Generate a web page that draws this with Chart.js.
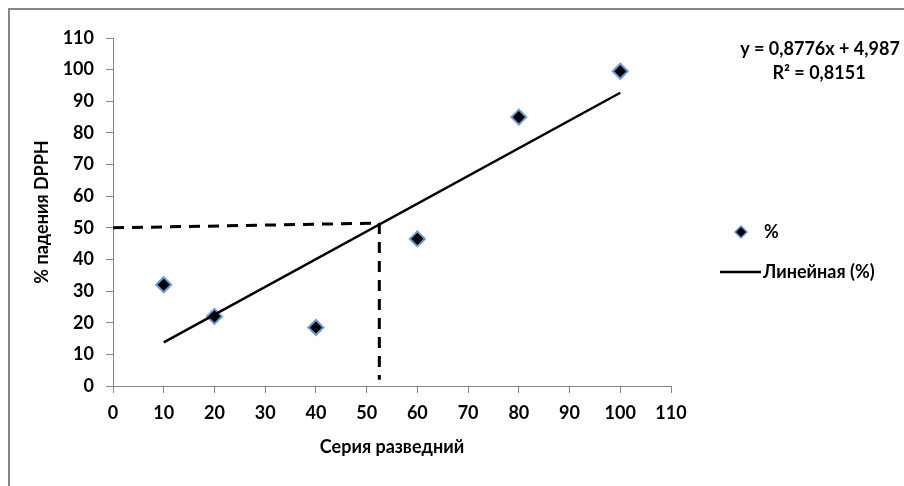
<!DOCTYPE html>
<html>
<head>
    <title>% падения DPPH</title>
    <script src="https://cdn.jsdelivr.net/npm/chart.js"></script>
    <style>
        body { margin: 0; background: #fff; }
        .wrap { position: relative; width: 904px; height: 486px; overflow: hidden; }
        .frame { position: absolute; left: 8px; top: 8px; width: 1000px; height: 1000px; border: 2px solid #878787; pointer-events: none; }
        canvas { position: absolute; left: 0; top: 0; }
    </style>
</head>
<body>
    <div class="wrap">
        <canvas id="chart" width="904" height="486"></canvas>
        <div class="frame"></div>
    </div>

    <script>
        // Серия разведний / % падения DPPH
        const seriesX = [10, 20, 40, 60, 80, 100];
        const seriesY = [32, 22, 18.5, 46.5, 85, 99.5];

        // линия тренда (концы)
        const trendX = [10, 100];
        const trendY = [13.8, 92.7];

        // пунктир: 50% по оси Y
        const guideHX = [0, 52.5];
        const guideHY = [50, 51.5];
        const guideVX = [52.5, 52.5];
        const guideVY = [51.5, 2];

        const xTicks = [0, 10, 20, 30, 40, 50, 60, 70, 80, 90, 100, 110];
        const yTicks = [0, 10, 20, 30, 40, 50, 60, 70, 80, 90, 100, 110];

        const legendLabels = ["%", "Линейная (%)"];
        const equationLines = ["y = 0,8776x + 4,987", "R² = 0,8151"];

        const pts = (xs, ys) => xs.map((x, i) => ({ x: x, y: ys[i] }));

        const FONT = "Lato, 'Open Sans', sans-serif";
        const FS = 18;
        Chart.defaults.color = "#000";
        Chart.defaults.font.family = FONT;

        // легенда и уравнение справа
        const sidePlugin = {
            id: "side",
            afterDraw(chart) {
                const ctx = chart.ctx;
                ctx.save();
                ctx.fillStyle = "#000";
                ctx.font = "bold " + FS + "px " + FONT;
                ctx.textBaseline = "middle";
                ctx.textAlign = "center";
                ctx.fillText(equationLines[0], 820, 49);
                ctx.fillText(equationLines[1], 819, 73);

                // маркер
                ctx.beginPath();
                ctx.moveTo(741, 226);
                ctx.lineTo(747, 232);
                ctx.lineTo(741, 238);
                ctx.lineTo(735, 232);
                ctx.closePath();
                ctx.fillStyle = "#000";
                ctx.fill();
                ctx.strokeStyle = "#6a9bd8";
                ctx.lineWidth = 1.5;
                ctx.stroke();

                // линия
                ctx.beginPath();
                ctx.moveTo(720, 272);
                ctx.lineTo(761, 272);
                ctx.strokeStyle = "#000";
                ctx.lineWidth = 2.5;
                ctx.stroke();

                ctx.textAlign = "left";
                ctx.fillStyle = "#000";
                ctx.fillText(legendLabels[0], 764, 232);
                ctx.fillText(legendLabels[1], 763, 272);
                ctx.restore();
            }
        };

        new Chart(document.getElementById("chart"), {
            type: "scatter",
            data: {
                datasets: [
                    {
                        label: legendLabels[0],
                        data: pts(seriesX, seriesY),
                        pointStyle: "rectRot",
                        pointRadius: 7.5,
                        pointBackgroundColor: "#000",
                        pointBorderColor: "#6a9bd8",
                        pointBorderWidth: 2,
                        order: 1
                    },
                    {
                        label: legendLabels[1],
                        data: pts(trendX, trendY),
                        showLine: true,
                        pointRadius: 0,
                        borderColor: "#000",
                        borderWidth: 2.5,
                        order: 0
                    },
                    {
                        label: "guideH",
                        data: pts(guideHX, guideHY),
                        showLine: true,
                        pointRadius: 0,
                        borderColor: "#000",
                        borderWidth: 3,
                        borderDash: [11, 8],
                        order: 2
                    },
                    {
                        label: "guideV",
                        data: pts(guideVX, guideVY),
                        showLine: true,
                        pointRadius: 0,
                        borderColor: "#000",
                        borderWidth: 3,
                        borderDash: [11, 8],
                        order: 2
                    }
                ]
            },
            options: {
                responsive: false,
                animation: false,
                layout: { padding: { left: 0, top: 38, right: 233, bottom: 0 } },
                plugins: {
                    legend: { display: false },
                    tooltip: { enabled: false }
                },
                scales: {
                    x: {
                        type: "linear",
                        min: 0,
                        max: 110,
                        afterBuildTicks: s => { s.ticks = xTicks.map(v => ({ value: v })); },
                        afterFit: s => { s.height = 100; },
                        grid: { drawOnChartArea: false, color: "#868686", tickLength: 7 },
                        border: { color: "#868686", width: 1 },
                        ticks: { font: { size: FS, weight: "bold" }, padding: 9, maxRotation: 0 },
                        title: {
                            display: true,
                            text: "Серия разведний",
                            font: { size: FS, weight: "bold" },
                            padding: { top: 0, bottom: 28 }
                        }
                    },
                    y: {
                        type: "linear",
                        min: 0,
                        max: 110,
                        afterBuildTicks: s => { s.ticks = yTicks.map(v => ({ value: v })); },
                        afterFit: s => { s.width = 113; },
                        grid: { drawOnChartArea: false, color: "#868686", tickLength: 7 },
                        border: { color: "#868686", width: 1 },
                        ticks: { font: { size: FS, weight: "bold" }, padding: 12 },
                        title: {
                            display: true,
                            text: "% падения DPPH",
                            font: { size: FS, weight: "bold" },
                            padding: { top: 31, bottom: 0 }
                        }
                    }
                }
            },
            plugins: [sidePlugin]
        });
    </script>
</body>
</html>
